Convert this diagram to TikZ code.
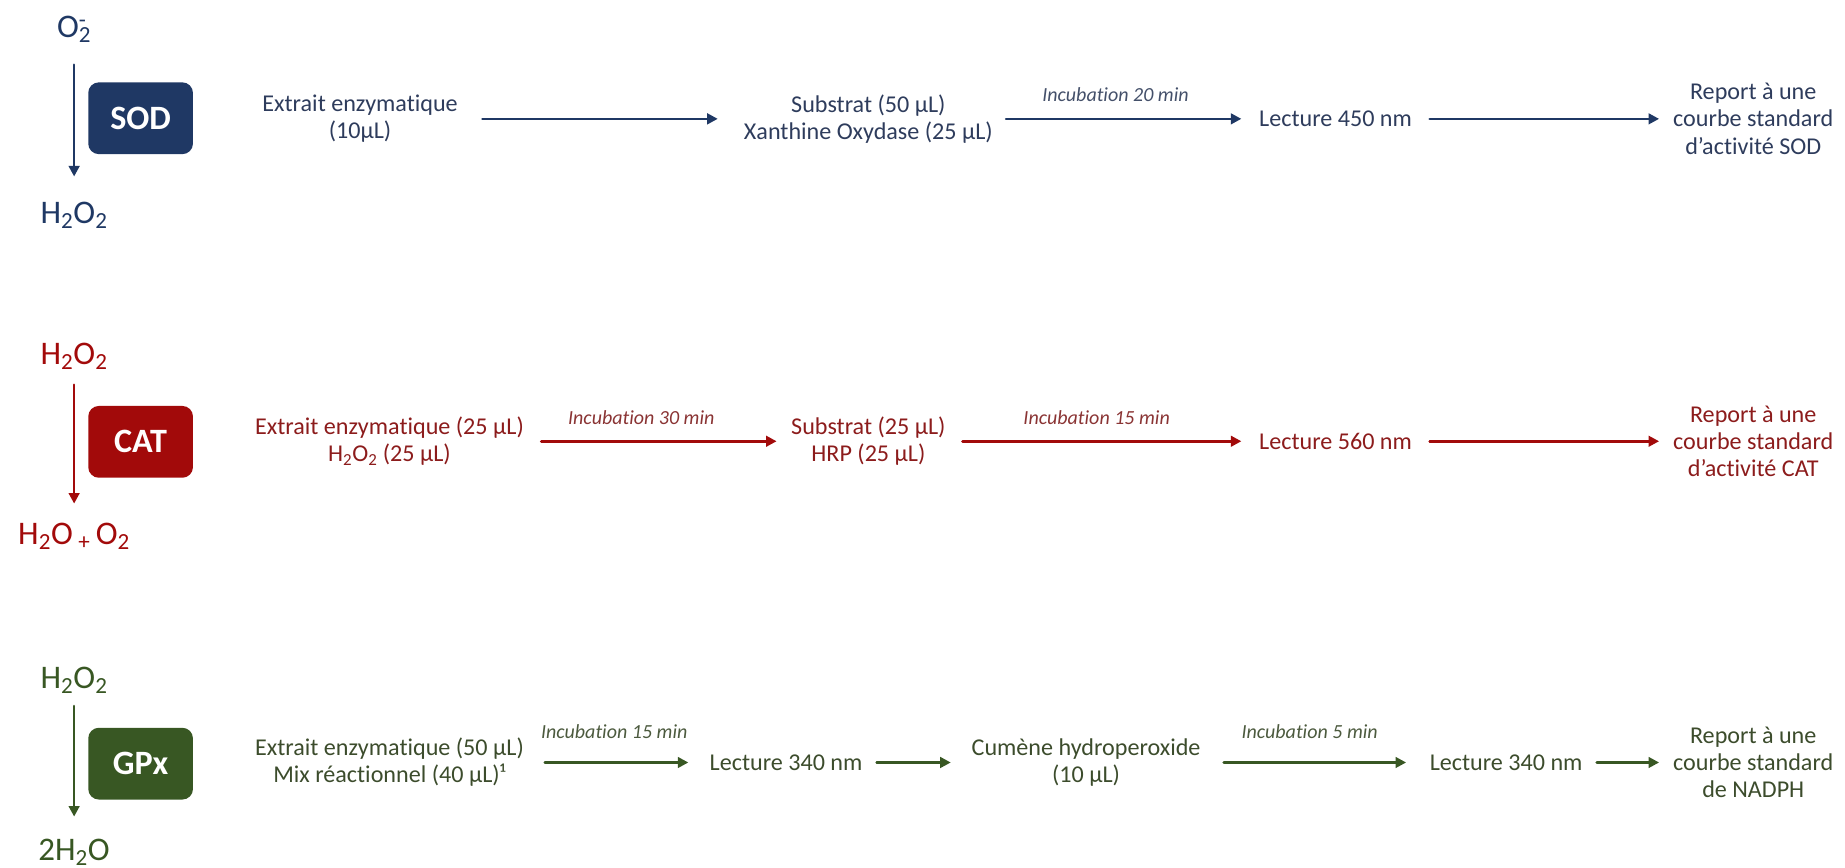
\documentclass[tikz,border=0pt]{standalone}
\usepackage{fontspec}
\setmainfont{Carlito}[Ligatures=NoCommon]
\usepackage{tikz}
\usetikzlibrary{arrows.meta}
\definecolor{sodblue}{HTML}{1F3864}
\definecolor{sodtext}{HTML}{2E3C5C}
\definecolor{sodinc}{HTML}{44506A}
\definecolor{catred}{HTML}{A20A0A}
\definecolor{cattext}{HTML}{8C1C1C}
\definecolor{catinc}{HTML}{8A3434}
\definecolor{gpxgreen}{HTML}{385723}
\definecolor{gpxtext}{HTML}{3C4C2C}
\definecolor{gpxinc}{HTML}{4C5A3E}

\begin{document}
\begin{tikzpicture}[x=1pt, y=-1pt, line cap=round, line join=round, >={Triangle[length=9pt,width=9pt]},
    txt/.style={inner sep=0pt, align=center, font=\fontsize{20.5}{23}\selectfont},
    inc/.style={inner sep=0pt, font=\fontsize{17}{20}\selectfont\itshape},
    chem/.style={inner sep=0pt, font=\fontsize{28}{30}\selectfont},
    enzbox/.style={rounded corners=9pt, minimum width=89pt, minimum height=61pt, inner sep=0pt, text=white, font=\fontsize{29}{30}\selectfont\bfseries},
    flow/.style={->, line width=2.2pt}]
    \useasboundingbox (0,0) rectangle (1568,737);

    % SOD
    \node[chem, text=sodblue] (sodin) at (63,25) {O\rlap{\textsuperscript{-}}\textsubscript{2}};
    \node[chem, text=sodblue] (sodout) at (63,183) {H\textsubscript{2}O\textsubscript{2}};
    \node[enzbox, fill=sodblue] (sodenz) at (119.5,100.5) {SOD};
    \draw[flow, sodblue, shorten <=30pt, shorten >=33pt] (sodin.center) -- (sodout.center);

    \node[txt, text=sodtext] (sodext) at (306,101) {Extrait enzymatique\\(10µL)};
    \node[txt, text=sodtext] (sodsub) at (738,101) {Substrat (50 µL)\\Xanthine Oxydase (25 µL)};
    \node[txt, text=sodtext] (sodlec) at (1135,101) {Lecture 450 nm};
    \node[txt, text=sodtext] (sodrep) at (1490,101) {Report à une\\courbe standard\\d’activité SOD};
    \node[inc, text=sodinc] (sodinc) at (948,80) {Incubation 20 min};

    \draw[flow, sodblue, shorten <=104pt, shorten >=128pt] (sodext.center) -- (sodsub.center);
    \draw[flow, sodblue, shorten <=117pt, shorten >=80pt] (sodsub.center) -- (sodlec.center);
    \draw[flow, sodblue, shorten <=80pt, shorten >=80pt] (sodlec.center) -- (sodrep.center);

    % CAT
    \node[chem, text=catred] (catin) at (63,303) {H\textsubscript{2}O\textsubscript{2}};
    \node[chem, text=catred] (catout) at (63,456) {H\textsubscript{2}O\,\textsubscript{+}\,O\textsubscript{2}};
    \node[enzbox, fill=catred] (catenz) at (119.5,375.5) {CAT};
    \draw[flow, catred, shorten <=24pt, shorten >=28pt] (catin.center) -- (catout.center);

    \node[txt, text=cattext] (catext) at (331,375) {Extrait enzymatique (25 µL)\\H\textsubscript{2}O\textsubscript{2} (25 µL)};
    \node[txt, text=cattext] (catsub) at (738,375) {Substrat (25 µL)\\HRP (25 µL)};
    \node[txt, text=cattext] (catlec) at (1135,375) {Lecture 560 nm};
    \node[txt, text=cattext] (catrep) at (1490,375) {Report à une\\courbe standard\\d’activité CAT};
    \node[inc, text=catinc] (catincA) at (545,355) {Incubation 30 min};
    \node[inc, text=catinc] (catincB) at (932,355) {Incubation 15 min};

    \draw[flow, catred, shorten <=129pt, shorten >=78pt] (catext.center) -- (catsub.center);
    \draw[flow, catred, shorten <=80pt, shorten >=80pt] (catsub.center) -- (catlec.center);
    \draw[flow, catred, shorten <=80pt, shorten >=80pt] (catlec.center) -- (catrep.center);

    % GPx
    \node[chem, text=gpxgreen] (gpxin) at (63,578) {H\textsubscript{2}O\textsubscript{2}};
    \node[chem, text=gpxgreen] (gpxout) at (63,724) {2H\textsubscript{2}O};
    \node[enzbox, fill=gpxgreen] (gpxenz) at (119.5,649) {GPx};
    \draw[flow, gpxgreen, shorten <=22pt, shorten >=30pt] (gpxin.center) -- (gpxout.center);

    \node[txt, text=gpxtext] (gpxext) at (331,648) {Extrait enzymatique (50 µL)\\Mix réactionnel (40 µL)¹};
    \node[txt, text=gpxtext] (gpxlecA) at (668,648) {Lecture 340 nm};
    \node[txt, text=gpxtext] (gpxcum) at (923,648) {Cumène hydroperoxide\\(10 µL)};
    \node[txt, text=gpxtext] (gpxlecB) at (1280,648) {Lecture 340 nm};
    \node[txt, text=gpxtext] (gpxrep) at (1490,648) {Report à une\\courbe standard\\de NADPH};
    \node[inc, text=gpxinc] (gpxincA) at (522,622) {Incubation 15 min};
    \node[inc, text=gpxinc] (gpxincB) at (1113,622) {Incubation 5 min};

    \draw[flow, gpxgreen, shorten <=132pt, shorten >=83pt] (gpxext.center) -- (gpxlecA.center);
    \draw[flow, gpxgreen, shorten <=77pt, shorten >=115pt] (gpxlecA.center) -- (gpxcum.center);
    \draw[flow, gpxgreen, shorten <=117pt, shorten >=85pt] (gpxcum.center) -- (gpxlecB.center);
    \draw[flow, gpxgreen, shorten <=77pt, shorten >=80pt] (gpxlecB.center) -- (gpxrep.center);
\end{tikzpicture}
\end{document}
